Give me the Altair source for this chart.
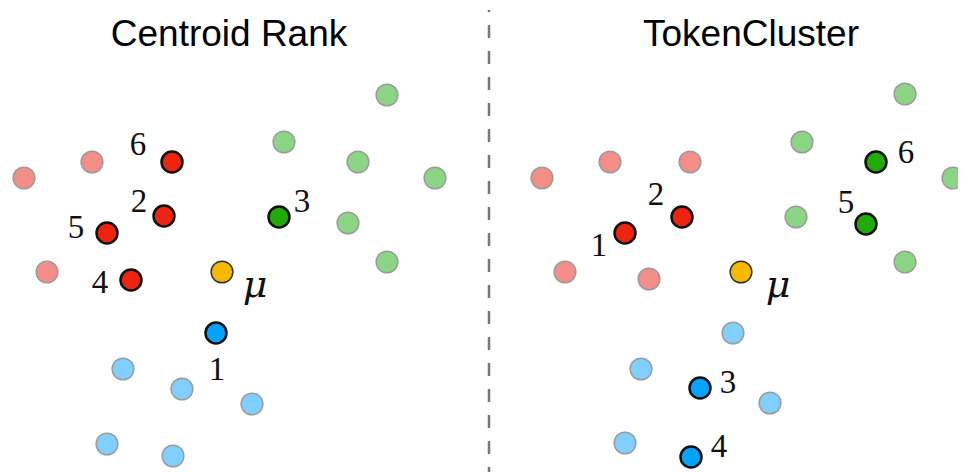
import altair as alt
import pandas as pd

# ---- data (reference pixel coordinates) ----
pt_x = [24, 92, 47,               # left light red
        172, 164, 107, 131,       # left dark red (6,2,5,4)
        387, 284, 358, 435, 348, 387,  # left light green
        279,                      # left dark green (3)
        222,                      # left mu
        216,                      # left dark blue (1)
        123, 182, 252, 107, 173,  # left light blue
        542, 610, 690, 565, 649,  # right light red
        625, 682,                 # right dark red (1,2)
        905, 802, 953, 796, 905,  # right light green
        876, 866,                 # right dark green (6,5)
        741,                      # right mu
        733, 641, 770, 625,       # right light blue
        700, 691]                 # right dark blue (3,4)
pt_y = [178, 162, 272,
        162, 216, 233, 280,
        95, 142, 162, 178, 223, 262,
        217,
        272,
        333,
        369, 389, 404, 444, 456,
        178, 162, 162, 272, 279,
        233, 217,
        94, 142, 178, 217, 262,
        162, 224,
        272,
        333, 369, 403, 443,
        388, 457]
pt_kind = (["light red"] * 3 + ["red"] * 4 + ["light green"] * 6 + ["green"] + ["mu"] + ["blue"]
           + ["light blue"] * 5
           + ["light red"] * 5 + ["red"] * 2 + ["light green"] * 5 + ["green"] * 2 + ["mu"]
           + ["light blue"] * 4 + ["blue"] * 2)

kinds = ["light red", "red", "light green", "green", "mu", "light blue", "blue"]
fills = ["#F38F88", "#EE2410", "#8CD585", "#22AA08", "#F5BA00", "#80CFFF", "#03A4FF"]
strokes = ["#9C9C9C", "#111111", "#9C9C9C", "#111111", "#333333", "#9C9C9C", "#111111"]

num_x = [138, 139, 76, 100, 302, 217, 599, 656, 906, 846, 728, 719]
num_y = [155, 212, 238, 293, 212, 380, 256, 205, 163, 213, 393, 457]
num_text = ["6", "2", "5", "4", "3", "1", "1", "2", "6", "5", "3", "4"]

mu_x = [255, 778]
mu_y = [297, 297]
mu_text = ["\u03bc", "\u03bc"]

title_x = [229, 751]
title_y = [46, 46]
title_text = ["Centroid Rank", "TokenCluster"]

# ---- chart ----
W, H = 950, 464
xs = alt.Scale(domain=[8, 8 + W], zero=False, nice=False)
ys = alt.Scale(domain=[8, 8 + H], zero=False, nice=False, reverse=True)

pts = pd.DataFrame({"x": pt_x, "y": pt_y, "kind": pt_kind})
pts["dark"] = pts["kind"].isin(["red", "green", "blue"])
nums = pd.DataFrame({"x": num_x, "y": num_y, "t": num_text})
mus = pd.DataFrame({"x": mu_x, "y": mu_y, "t": mu_text})
tits = pd.DataFrame({"x": title_x, "y": title_y, "t": title_text})
div = pd.DataFrame({"x": [489], "y": [10], "y2": [472]})

X = lambda: alt.X("x:Q", scale=xs, axis=None)
Y = lambda: alt.Y("y:Q", scale=ys, axis=None)

divider = alt.Chart(div).mark_rule(
    color="#777777", strokeWidth=2.5, strokeDash=[13, 13], strokeDashOffset=11
).encode(x=X(), y=Y(), y2="y2:Q")

light = alt.Chart(pts[~pts["dark"]]).mark_circle(size=470, opacity=1, strokeWidth=1.5).encode(
    x=X(), y=Y(),
    fill=alt.Fill("kind:N", scale=alt.Scale(domain=kinds, range=fills), legend=None),
    stroke=alt.Stroke("kind:N", scale=alt.Scale(domain=kinds, range=strokes), legend=None),
)
dark = alt.Chart(pts[pts["dark"]]).mark_circle(size=440, opacity=1, strokeWidth=2.5).encode(
    x=X(), y=Y(),
    fill=alt.Fill("kind:N", scale=alt.Scale(domain=kinds, range=fills), legend=None),
    stroke=alt.Stroke("kind:N", scale=alt.Scale(domain=kinds, range=strokes), legend=None),
)

numbers = alt.Chart(nums).mark_text(
    font="Liberation Serif", fontSize=33, align="center", baseline="alphabetic", color="#111111"
).encode(x=X(), y=Y(), text="t:N")

mu = alt.Chart(mus).mark_text(
    font="DejaVu Serif", fontSize=38, fontStyle="italic", align="center",
    baseline="alphabetic", color="#111111"
).encode(x=X(), y=Y(), text="t:N")

titles = alt.Chart(tits).mark_text(
    font="Liberation Sans", fontSize=37, align="center", baseline="alphabetic", color="#000000"
).encode(x=X(), y=Y(), text="t:N")

chart = alt.layer(divider, light, dark, numbers, mu, titles).properties(
    width=W, height=H, padding=0, autosize=alt.AutoSizeParams(type="none"),
    background="white"
).configure_view(stroke=None)

chart.save("out.html", embed_options={"renderer": "svg", "actions": False})
